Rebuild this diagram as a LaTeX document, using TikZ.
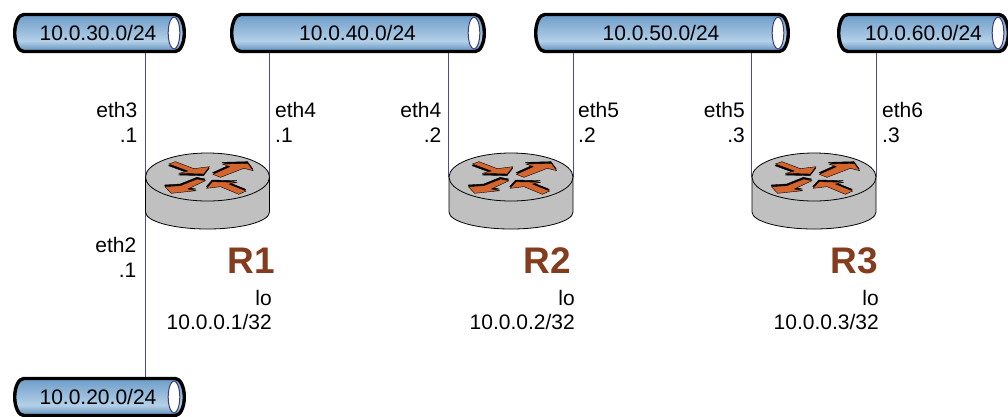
\documentclass[tikz,border=0pt]{standalone}
\usepackage{fontspec}
\setmainfont{Liberation Sans}
\definecolor{linkc}{HTML}{4B4B9B}
\definecolor{rnamec}{HTML}{843C1E}
\definecolor{arrowc}{HTML}{D5652F}
\definecolor{bodyc}{HTML}{C0C0C0}
\definecolor{tubeb}{HTML}{5C8CB8}
\definecolor{tubem}{HTML}{B4D0E8}
\definecolor{tubet}{HTML}{6C9CC8}
\pgfdeclareverticalshading{tube}{100bp}{color(0bp)=(tubeb);color(25bp)=(tubeb);color(39bp)=(tubem);color(75bp)=(tubet);color(100bp)=(tubet)}
\tikzset{
  netbox/.style={minimum height=40pt,inner sep=0pt,font=\fontsize{21}{24}\selectfont},
  routerbox/.style={minimum width=124pt,minimum height=46pt,inner sep=0pt},
  link/.style={draw=linkc,line width=1.3pt},
  lab/.style={align=right,inner sep=0pt,font=\fontsize{21}{24.5}\selectfont},
  labl/.style={align=left,inner sep=0pt,font=\fontsize{21}{24.5}\selectfont},
  rnamest/.style={inner sep=0pt,text=rnamec,font=\fontsize{37}{40}\selectfont\bfseries},
  tubeline/.style={line width=3.4pt,line join=round},
  rline/.style={draw=black,line width=.8pt},
  rarrow/.style={fill=arrowc,draw=black,line width=.4pt,line join=round},
  rshadow/.style={fill=black,draw=black,line width=.4pt,line join=round},
}
% x1, x2, ycentre
\newcommand{\tubeart}[3]{%
  \shade[shading=tube] (#1+10.7,#3-18.5) -- (#2-10.7,#3-18.5)
    arc[start angle=-90,end angle=90,x radius=9,y radius=18.5]
    -- (#1+10.7,#3+18.5)
    arc[start angle=90,end angle=270,x radius=9,y radius=18.5] -- cycle;
  \draw[tubeline] (#1+10.7,#3-18.5) -- (#2-10.7,#3-18.5)
    arc[start angle=-90,end angle=90,x radius=9,y radius=18.5]
    -- (#1+10.7,#3+18.5)
    arc[start angle=90,end angle=270,x radius=9,y radius=18.5] -- cycle;
  \draw[fill=white,draw=linkc!80!black,line width=1pt] (#2-12,#3) ellipse [x radius=5.8,y radius=16];
}
% shadow offset, outline
\newcommand{\rarrowpoly}[2]{%
  \filldraw[rshadow,shift={(#1)}] #2;
  \filldraw[rarrow] #2;
}
% cx, cy
\newcommand{\routerart}[2]{%
  \begin{scope}[shift={(#1,#2)}]
    \path[fill=bodyc,rline] (-62,0) -- (-62,35)
      arc[start angle=180,end angle=0,x radius=62,y radius=17]
      -- (62,0) -- cycle;
    \path[fill=bodyc,rline] (0,0) ellipse [x radius=62,y radius=24];
    \begin{scope}[scale=1/3]
      \rarrowpoly{-1,5}{(-116,-39) -- (-96,-46) -- (-41,-25) -- (6,-31) -- (-11,-9) -- (-86,-11) -- (-59,-18) -- cycle}
      \rarrowpoly{-1,-5}{(16,-8) -- (67,-31) -- (44,-39) -- (121,-41) -- (137,-19) -- (109,-26) -- (39,1) -- cycle}
      \rarrowpoly{-1,-5}{(-3,34) -- (15,14) -- (89,16) -- (64,21) -- (116,42) -- (94,52) -- (39,29) -- cycle}
      \rarrowpoly{-1,-5}{(-128,29) -- (-81,26) -- (-31,6) -- (-6,11) -- (-59,36) -- (-34,41) -- (-109,49) -- cycle}
    \end{scope}
  \end{scope}
}
\begin{document}
\begin{tikzpicture}[x=1pt,y=-1pt]
\useasboundingbox (0,0) rectangle (1008,416);
% tubes
\tubeart{13}{186}{33}
\tubeart{230}{486}{33}
\tubeart{534}{790}{33}
\tubeart{837}{1010}{33}
\tubeart{13}{186}{397}
\node[netbox,minimum width=171pt] (n30) at (98,33) {10.0.30.0/24};
\node[netbox,minimum width=254pt] (n40) at (357.5,33) {10.0.40.0/24};
\node[netbox,minimum width=254pt] (n50) at (661,33) {10.0.50.0/24};
\node[netbox,minimum width=171pt] (n60) at (923.5,33) {10.0.60.0/24};
\node[netbox,minimum width=171pt] (n20) at (98,397) {10.0.20.0/24};
% routers (anchors only; art on top of the links)
\node[routerbox] (r1) at (207.5,177) {};
\node[routerbox] (r2) at (511,177) {};
\node[routerbox] (r3) at (814,177) {};
% links
\draw[link] (n30.south -| r1.west) -- (r1.west);
\draw[link] (n40.south -| r1.east) -- (r1.east);
\draw[link] (n40.south -| r2.west) -- (r2.west);
\draw[link] (n50.south -| r2.east) -- (r2.east);
\draw[link] (n50.south -| r3.west) -- (r3.west);
\draw[link] (n60.south -| r3.east) -- (r3.east);
\draw[link] (r1.west) -- (n20.north -| r1.west);
\routerart{207.5}{177}
\routerart{511}{177}
\routerart{814}{177}
% interface labels
\node[lab,anchor=east] (l13) at (137.5,122.5) {eth3\\.1};
\node[labl,anchor=west] (l14) at (275,122.5) {eth4\\.1};
\node[lab,anchor=east] (l24) at (441.5,122.5) {eth4\\.2};
\node[labl,anchor=west] (l25) at (578,122.5) {eth5\\.2};
\node[lab,anchor=east] (l35) at (745,122.5) {eth5\\.3};
\node[labl,anchor=west] (l36) at (882,122.5) {eth6\\.3};
\node[lab,anchor=east] (l12) at (136.5,257.5) {eth2\\.1};
% router names
\node[rnamest,anchor=east] (t1) at (275,261) {R1};
\node[rnamest,anchor=east] (t2) at (571,261) {R2};
\node[rnamest,anchor=east] (t3) at (878,261) {R3};
% loopbacks
\node[lab,anchor=east] (lo1) at (272,310) {lo\\10.0.0.1/32};
\node[lab,anchor=east] (lo2) at (575,310) {lo\\10.0.0.2/32};
\node[lab,anchor=east] (lo3) at (879,310) {lo\\10.0.0.3/32};
\end{tikzpicture}
\end{document}
